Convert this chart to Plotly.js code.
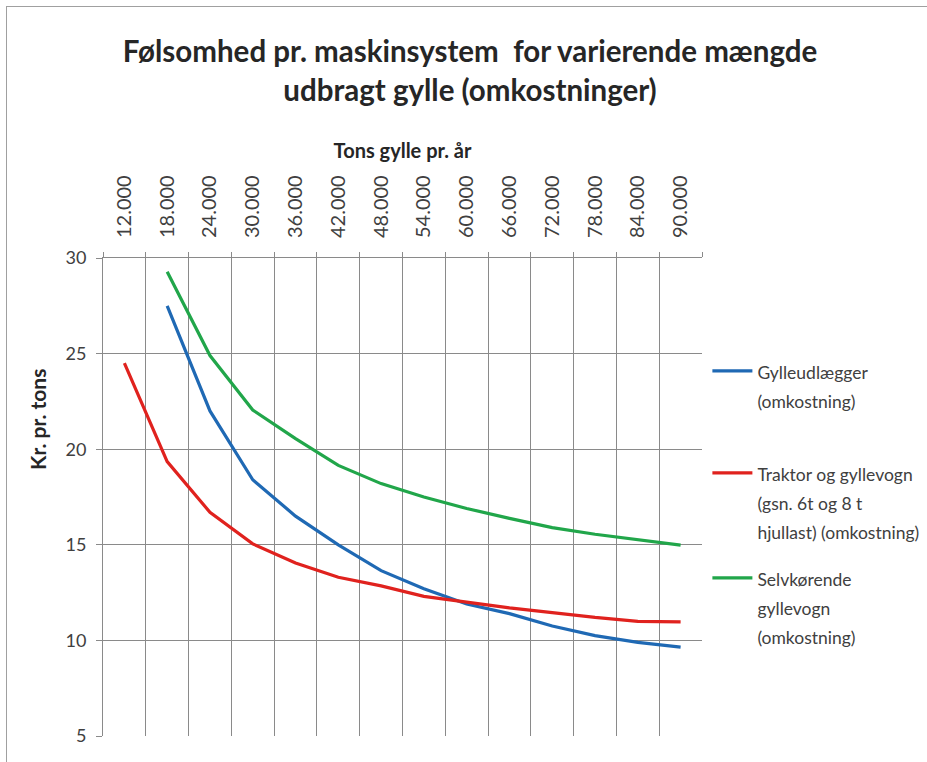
<!DOCTYPE html>
<html><head><meta charset="utf-8">
<script src="https://cdn.plot.ly/plotly-3.0.1.min.js"></script>
<style>
html,body{margin:0;padding:0;background:#fff;}
#frame{position:absolute;left:6px;top:6px;width:1000px;height:1000px;border-left:1px solid #a0a0a0;border-top:1px solid #a0a0a0;}
#chart{position:absolute;left:0;top:0;width:927px;height:762px;}
</style></head><body>
<div id="frame"></div>
<div id="chart"></div>
<script>
const categories = ['12.000','18.000','24.000','30.000','36.000','42.000','48.000','54.000','60.000','66.000','72.000','78.000','84.000','90.000'];
const gylleudlaegger = [null, 27.5, 22.0, 18.4, 16.5, 15.0, 13.65, 12.7, 11.9, 11.4, 10.75, 10.25, 9.9, 9.65];
const traktorGyllevogn = [24.5, 19.35, 16.7, 15.05, 14.05, 13.3, 12.85, 12.3, 12.0, 11.7, 11.45, 11.2, 11.0, 10.97];
const selvkoerende = [null, 29.28, 24.9, 22.05, 20.55, 19.15, 18.2, 17.5, 16.9, 16.38, 15.9, 15.55, 15.25, 14.98];

const names = [
  'Gylleudlægger<br>(omkostning)',
  'Traktor og gyllevogn<br>(gsn. 6t og 8 t<br>hjullast) (omkostning)',
  'Selvkørende<br>gyllevogn<br>(omkostning)'
];
const colors = ['#1F69B4', '#E0221E', '#21A64A'];
const FONT = 'Lato, "Open Sans", sans-serif';

function sized(txt, px) {
  return txt.split('<br>').map(s => '<span style="font-size:' + px + 'px">' + s + '</span>').join('<br>');
}

const series = [gylleudlaegger, traktorGyllevogn, selvkoerende];
const legendIds = ['legend', 'legend2', 'legend3'];
const traces = series.map((vals, i) => ({
  type: 'scatter', mode: 'lines',
  x: categories, y: vals,
  name: sized(names[i], 17.5),
  line: {color: colors[i], width: 3.2, shape: 'linear'},
  connectgaps: false,
  legend: legendIds[i],
  hoverinfo: 'x+y'
}));

function legendAt(yPaper) {
  return {
    x: 1.009, xanchor: 'left', y: yPaper, yanchor: 'top',
    bgcolor: 'rgba(0,0,0,0)', borderwidth: 0,
    valign: 'top', itemwidth: 40,
    font: {family: FONT, size: 22, color: '#404040'}
  };
}

const layout = {
  width: 927, height: 762,
  margin: {l: 103, r: 225, t: 258, b: 26, autoexpand: false},
  paper_bgcolor: 'rgba(0,0,0,0)',
  plot_bgcolor: 'rgba(0,0,0,0)',
  showlegend: true,
  title: {
    text: sized('Følsomhed pr. maskinsystem  for varierende mængde<br>udbragt gylle (omkostninger)', 29.5),
    font: {family: FONT, size: 30, color: '#262626', weight: 'bold'},
    x: 470 / 927, xanchor: 'center',
    y: 0.918, yanchor: 'top', yref: 'container'
  },
  xaxis: {
    type: 'category', side: 'top',
    range: [-0.5, 13.5],
    tickangle: -90,
    tickson: 'boundaries',
    ticks: 'outside', ticklen: 5, tickcolor: '#8a8a8a', tickwidth: 1,
    showgrid: true, gridcolor: '#8a8a8a', gridwidth: 1,
    showline: true, linecolor: '#8a8a8a', linewidth: 1,
    tickfont: {family: FONT, size: 20, color: '#404040'},
    ticklabelstandoff: 15,
    title: {text: 'Tons gylle pr. år', font: {family: FONT, size: 20, color: '#262626', weight: 'bold'}, standoff: 11},
    fixedrange: true
  },
  yaxis: {
    range: [5, 30], dtick: 5, tick0: 0,
    ticks: 'outside', ticklen: 6, tickcolor: '#8a8a8a',
    showgrid: true, gridcolor: '#8a8a8a', gridwidth: 1,
    showline: true, linecolor: '#8a8a8a', linewidth: 1,
    zeroline: false,
    tickfont: {family: FONT, size: 18, color: '#404040'},
    ticklabelstandoff: 6,
    fixedrange: true
  },
  legend: legendAt((736 - 350) / 478),
  legend2: legendAt((736 - 452) / 478),
  legend3: legendAt((736 - 557) / 478),
  annotations: [{
    text: 'Kr. pr. tons', textangle: -90,
    xref: 'paper', yref: 'paper',
    x: (37 - 103) / 599, y: (736 - 420) / 478,
    xanchor: 'center', yanchor: 'middle', showarrow: false,
    font: {family: FONT, size: 21, color: '#262626', weight: 'bold'}
  }]
};

Plotly.newPlot('chart', traces, layout, {displayModeBar: false, staticPlot: false});
</script>
</body></html>
